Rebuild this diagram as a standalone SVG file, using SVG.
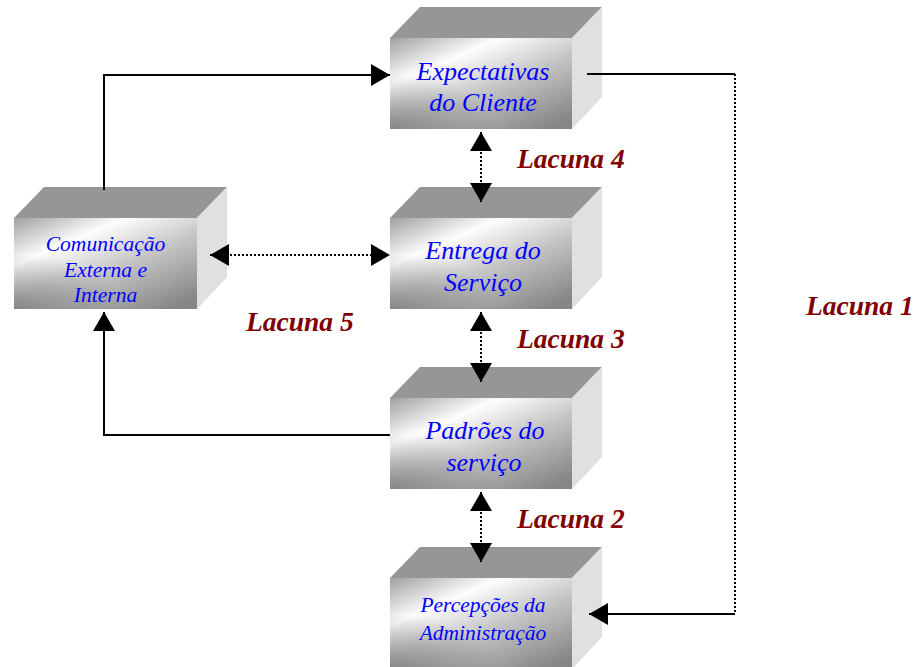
<svg xmlns="http://www.w3.org/2000/svg" width="917" height="667" viewBox="0 0 917 667">
  <style>
    .top { fill: #969696; }
    .side { fill: #e0e0e0; }
    .front { fill: url(#faceGrad); }
    .shade { fill: url(#cornerShade); }
    .label { font-family: "Liberation Serif", "Times New Roman", serif; font-style: italic; fill: #0000ff; text-anchor: middle; }
    .big { font-size: 26px; }
    .small { font-size: 21.5px; }
    .gap { font-family: "Liberation Serif", "Times New Roman", serif; font-style: italic; font-weight: bold; font-size: 27.5px; fill: #800000; }
    .solid { fill: none; stroke: #000; stroke-width: 2; }
    .dotted { fill: none; stroke: #000; stroke-width: 2; stroke-dasharray: 2 2; }
  </style>
  <defs>
    <linearGradient id="faceGrad" x1="0" y1="0" x2="0.85" y2="1">
      <stop offset="0" stop-color="#a0a0a0"/>
      <stop offset="0.3" stop-color="#fdfdfd"/>
      <stop offset="0.6" stop-color="#c4c4c4"/>
      <stop offset="1" stop-color="#868686"/>
    </linearGradient>
    <radialGradient id="cornerShade" cx="0" cy="1" r="0.6">
      <stop offset="0" stop-color="#707070" stop-opacity="0.75"/>
      <stop offset="1" stop-color="#707070" stop-opacity="0"/>
    </radialGradient>
    <marker id="head" viewBox="0 0 19 22" refX="19" refY="11" markerWidth="19" markerHeight="22" markerUnits="userSpaceOnUse" orient="auto-start-reverse">
      <path d="M0,0 L19,11 L0,22 Z" fill="#000"/>
    </marker>
  </defs>

  <!-- boxes -->
  <g id="expectativas">
    <polygon class="top" points="390,38 420,7 602,7 572,38"/>
    <polygon class="side" points="572,38 602,7 602,97 572,129"/>
    <rect class="front" x="390" y="38" width="182" height="91"/>
    <rect class="shade" x="390" y="38" width="182" height="91"/>
    <text class="label big" x="483" y="80">Expectativas</text>
    <text class="label big" x="483" y="111">do Cliente</text>
  </g>

  <g id="comunicacao">
    <polygon class="top" points="14,218 44,187 227,187 197,218"/>
    <polygon class="side" points="197,218 227,187 227,277 197,309"/>
    <rect class="front" x="14" y="218" width="183" height="91"/>
    <rect class="shade" x="14" y="218" width="183" height="91"/>
    <text class="label small" x="105.5" y="251">Comunicação</text>
    <text class="label small" x="105.5" y="277">Externa e</text>
    <text class="label small" x="105.5" y="302">Interna</text>
  </g>

  <g id="entrega">
    <polygon class="top" points="390,218 420,187 602,187 572,218"/>
    <polygon class="side" points="572,218 602,187 602,277 572,309"/>
    <rect class="front" x="390" y="218" width="182" height="91"/>
    <rect class="shade" x="390" y="218" width="182" height="91"/>
    <text class="label big" x="483" y="259">Entrega do</text>
    <text class="label big" x="483" y="291">Serviço</text>
  </g>

  <g id="padroes">
    <polygon class="top" points="390,398 420,367 602,367 572,398"/>
    <polygon class="side" points="572,398 602,367 602,457 572,489"/>
    <rect class="front" x="390" y="398" width="182" height="91"/>
    <rect class="shade" x="390" y="398" width="182" height="91"/>
    <text class="label big" x="485" y="439">Padrões do</text>
    <text class="label big" x="484" y="471">serviço</text>
  </g>

  <g id="percepcoes">
    <polygon class="top" points="390,578 420,547 602,547 572,578"/>
    <polygon class="side" points="572,578 602,547 602,637 572,669"/>
    <rect class="front" x="390" y="578" width="182" height="91"/>
    <rect class="shade" x="390" y="578" width="182" height="91"/>
    <text class="label small" x="483" y="612">Percepções da</text>
    <text class="label small" x="483" y="640">Administração</text>
  </g>

  <!-- connectors, drawn over the boxes so the heads sit on the faces -->
  <g id="connectors">
    <polyline class="solid" points="104,190 104,75 390,75" marker-end="url(#head)"/>
    <polyline class="solid" points="587,74 735,74"/>
    <polyline class="dotted" points="735,74 735,614"/>
    <polyline class="solid" points="735,614 589,614" marker-end="url(#head)"/>
    <polyline class="solid" points="390,435 104,435 104,312" marker-end="url(#head)"/>
    <line class="dotted" x1="481" y1="132" x2="481" y2="202" marker-start="url(#head)" marker-end="url(#head)"/>
    <line class="dotted" x1="481" y1="312" x2="481" y2="382" marker-start="url(#head)" marker-end="url(#head)"/>
    <line class="dotted" x1="481" y1="492" x2="481" y2="562" marker-start="url(#head)" marker-end="url(#head)"/>
    <line class="dotted" x1="210" y1="255" x2="390" y2="255" marker-start="url(#head)" marker-end="url(#head)"/>
  </g>

  <!-- gap labels -->
  <g id="lacunas">
    <text class="gap" x="517" y="168">Lacuna 4</text>
    <text class="gap" x="517" y="348">Lacuna 3</text>
    <text class="gap" x="517" y="528">Lacuna 2</text>
    <text class="gap" x="246" y="331">Lacuna 5</text>
    <text class="gap" x="806" y="315">Lacuna 1</text>
  </g>
</svg>
